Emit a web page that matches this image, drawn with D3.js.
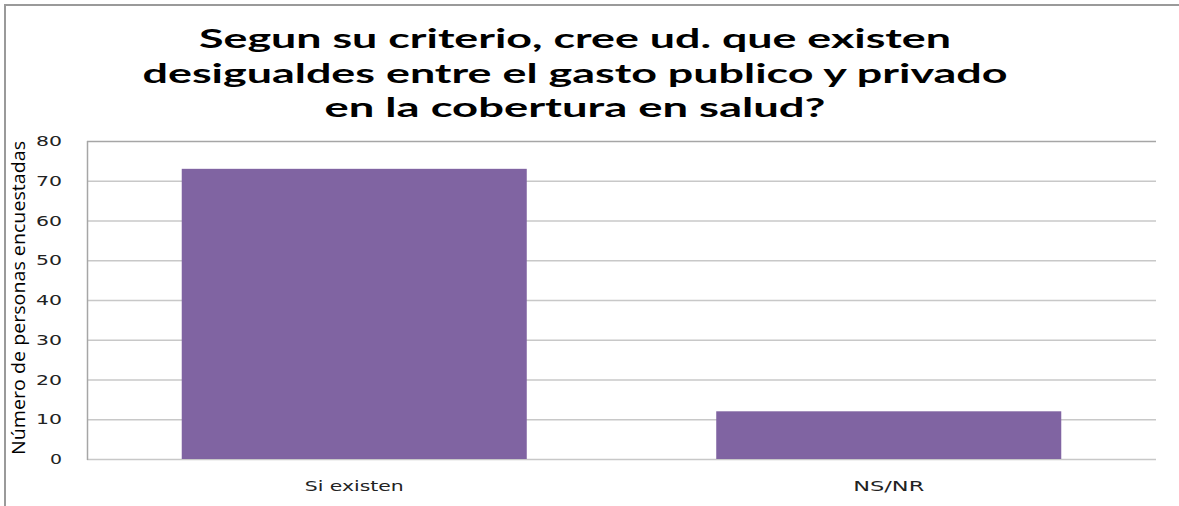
<!DOCTYPE html>
<html>
<head>
<meta charset="utf-8">
<script src="https://d3js.org/d3.v7.min.js"></script>
<style>
  html, body { margin: 0; padding: 0; background: #fff; }
  svg { display: block; }
</style>
</head>
<body>
<script>
const categories = ["Si existen", "NS/NR"];
const values = [73, 12];
const yTicks = [0, 10, 20, 30, 40, 50, 60, 70, 80];
const titleLines = [
  "Segun su criterio, cree ud. que existen",
  "desigualdes entre el gasto publico y privado",
  "en la cobertura en salud?"
];
const yLabel = "Número de personas encuestadas";

const W = 1179, H = 506;
const svg = d3.select("body").append("svg").attr("width", W).attr("height", H);

// frame
svg.append("rect").attr("x", 5).attr("y", 5).attr("width", W + 10).attr("height", H + 10)
  .attr("fill", "none").attr("stroke", "#9a9a9a").attr("stroke-width", 2);

const plot = { left: 87, right: 1156, top: 141, bottom: 459 };

const x = d3.scaleBand().domain(categories).range([plot.left, plot.right])
  .paddingInner(0.3545).paddingOuter(0.3545 / 2);
const y = d3.scaleLinear().domain([0, 80]).range([plot.bottom, plot.top]);

// gridlines
svg.append("g").selectAll("line").data(yTicks).join("line")
  .attr("x1", plot.left).attr("x2", plot.right)
  .attr("y1", d => y(d) + 0.5).attr("y2", d => y(d) + 0.5)
  .attr("stroke", d => d === 80 ? "#a6a6a6" : "#c8c8c8").attr("stroke-width", 1.3);

// bars
svg.append("g").selectAll("rect").data(values).join("rect")
  .attr("x", (d, i) => x(categories[i]))
  .attr("width", x.bandwidth())
  .attr("y", d => y(d))
  .attr("height", d => y(0) - y(d))
  .attr("fill", "#8064A2");

// left axis line
svg.append("line").attr("x1", plot.left + 0.5).attr("x2", plot.left + 0.5)
  .attr("y1", plot.top).attr("y2", plot.bottom + 1)
  .attr("stroke", "#a6a6a6").attr("stroke-width", 1.5);

// y tick labels
svg.append("g").selectAll("text").data(yTicks).join("text")
  .attr("x", d => 62 - (d === 0 ? 12 : 26)).attr("y", d => y(d))
  .attr("dy", "0.36em")
  .attr("font-family", "DejaVu Sans, sans-serif")
  .attr("font-size", 14)
  .attr("fill", "#222")
  .attr("textLength", d => d === 0 ? 12 : 26)
  .attr("lengthAdjust", "spacingAndGlyphs")
  .text(d => d);

// x labels
const xLabelWidths = { "Si existen": 99, "NS/NR": 71 };
svg.append("g").selectAll("text").data(categories).join("text")
  .attr("x", d => x(d) + x.bandwidth() / 2 - xLabelWidths[d] / 2)
  .attr("y", 491)
  .attr("font-family", "DejaVu Sans, sans-serif")
  .attr("font-size", 13.5)
  .attr("fill", "#222")
  .attr("textLength", d => xLabelWidths[d])
  .attr("lengthAdjust", "spacingAndGlyphs")
  .text(d => d);

// y axis title
svg.append("text")
  .attr("transform", "translate(25,298) rotate(-90)")
  .attr("text-anchor", "middle")
  .attr("font-family", "Open Sans, sans-serif")
  .attr("font-size", 17.5)
  .attr("fill", "#000")
  .attr("textLength", 314)
  .attr("lengthAdjust", "spacingAndGlyphs")
  .text(yLabel);

// title
const titleWidths = [752, 865, 501];
const titleBase = [48, 83, 117];
svg.append("g").selectAll("text").data(titleLines).join("text")
  .attr("x", (d, i) => 575 - titleWidths[i] / 2)
  .attr("y", (d, i) => titleBase[i])
  .attr("font-family", "Lato, sans-serif")
  .attr("font-weight", "bold")
  .attr("font-size", 27)
  .attr("fill", "#000")
  .attr("textLength", (d, i) => titleWidths[i])
  .attr("lengthAdjust", "spacingAndGlyphs")
  .text(d => d);
</script>
</body>
</html>
